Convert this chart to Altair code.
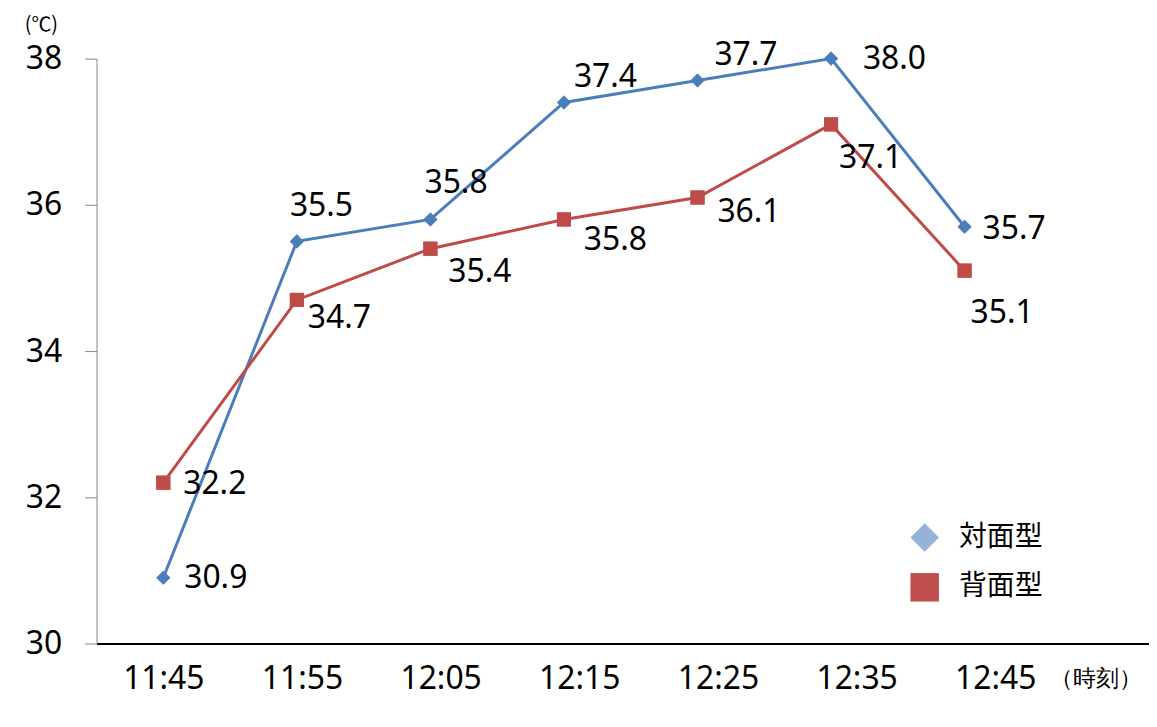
import altair as alt
import pandas as pd

# ---- data ----
times = ["11:45", "11:55", "12:05", "12:15", "12:25", "12:35", "12:45"]
x_unit_label = "（時刻）"
series_names = ["対面型", "背面型"]
facing_values = [30.9, 35.5, 35.8, 37.4, 37.7, 38.0, 35.7]
back_values = [32.2, 34.7, 35.4, 35.8, 36.1, 37.1, 35.1]
y_ticks = [30, 32, 34, 36, 38]

# ---- label placement (pixel nudges, styling only) ----
facing_label_dx = [21, -7, -6, 10, 17, 32, 18]
facing_label_dy = [0, -36, -37, -26, -26, 0, 2]
back_label_dx = [20, 11, 18, 20, 20, 8, 6]
back_label_dy = [1, 18, 23, 21, 15, 34, 43]

line_colors = ["#4A7EBB", "#BE4B48"]
legend_colors = ["#95B3D7", "#C0504D"]
shapes = ["diamond", "square"]

rows = []
for s, vals, dxs, dys in [
    (series_names[0], facing_values, facing_label_dx, facing_label_dy),
    (series_names[1], back_values, back_label_dx, back_label_dy),
]:
    for t, v, dx, dy in zip(times, vals, dxs, dys):
        rows.append({"time": t, "series": s, "value": v, "dx": dx, "dy": dy})
df = pd.DataFrame(rows)

FONT = "Noto Sans"
CJK = "Noto Sans CJK JP"

x_enc = alt.X(
    "time:N",
    sort=None,
    scale=alt.Scale(domain=times + [x_unit_label], range=[0, 1074], padding=0.5),
    axis=alt.Axis(
        title=None,
        ticks=False,
        tickSize=0,
        domainColor="black",
        domainWidth=2,
        labelAngle=0,
        labelFont=FONT,
        labelFontSize={"condition": {"test": "datum.value === '（時刻）'", "value": 23}, "value": 32},
        labelOffset={"expr": "datum.value === '（時刻）' ? -3 : datum.index * 36"},
        labelBaseline="middle",
        labelPadding=35,
        labelColor="black",
        grid=False,
    ),
)
y_enc = alt.Y(
    "value:Q",
    scale=alt.Scale(domain=[30, 38], nice=False, zero=False),
    axis=alt.Axis(
        values=y_ticks,
        title="(℃)",
        titleAngle=0,
        titleX=-56,
        titleY=-34,
        titleAlign="center",
        titleBaseline="middle",
        titleFont=CJK,
        titleFontSize=20,
        titleFontWeight="normal",
        titleColor="black",
        labelFont=FONT,
        labelFontSize=32,
        labelColor="black",
        labelPadding=23,
        labelBaseline="middle",
        tickSize=12,
        tickColor="#868686",
        domainColor="#868686",
        domainWidth=1,
        grid=False,
    ),
)

color_scale = alt.Scale(domain=series_names, range=line_colors)
shape_scale = alt.Scale(domain=series_names, range=shapes)

legend = alt.Legend(
    title=None,
    orient="none",
    legendX=818,
    legendY=467,
    labelFont=CJK,
    labelFontSize=28,
    labelColor="black",
    symbolSize=820,
    symbolStrokeWidth=0,
    symbolOpacity=1,
    rowPadding=21,
    labelOffset=20,
    padding=0,
)

legend_layer = alt.Chart(df).mark_point(filled=True, size=200, opacity=1).encode(
    x=x_enc,
    y=y_enc,
    fill=alt.Fill("series:N", scale=alt.Scale(domain=series_names, range=legend_colors), legend=legend),
    shape=alt.Shape("series:N", scale=shape_scale, legend=legend),
)

lines = alt.Chart(df).mark_line(strokeWidth=3).encode(
    x=x_enc,
    y=y_enc,
    color=alt.Color("series:N", scale=color_scale, legend=None),
)

points = alt.Chart(df).mark_point(filled=True, size=200, opacity=1).encode(
    x=x_enc,
    y=y_enc,
    color=alt.Color("series:N", scale=color_scale, legend=None),
    shape=alt.Shape("series:N", scale=shape_scale, legend=None),
)

labels = alt.Chart(df).mark_text(
    align="left",
    baseline="middle",
    font=FONT,
    fontSize=32,
    color="black",
    dx=alt.ExprRef("datum.dx"),
    dy=alt.ExprRef("datum.dy"),
).encode(
    x=x_enc,
    y=y_enc,
    text=alt.Text("value:Q", format=".1f"),
)

chart = (
    alt.layer(legend_layer, lines, points, labels)
    .properties(
        width=1058,
        height=588,
        autosize=alt.AutoSizeParams(type="none"),
        padding={"left": 89, "top": 49, "right": 0, "bottom": 72},
        background="white",
    )
    .configure_view(stroke=None)
)

chart.save("out.html", embed_options={"renderer": "svg", "actions": False})
